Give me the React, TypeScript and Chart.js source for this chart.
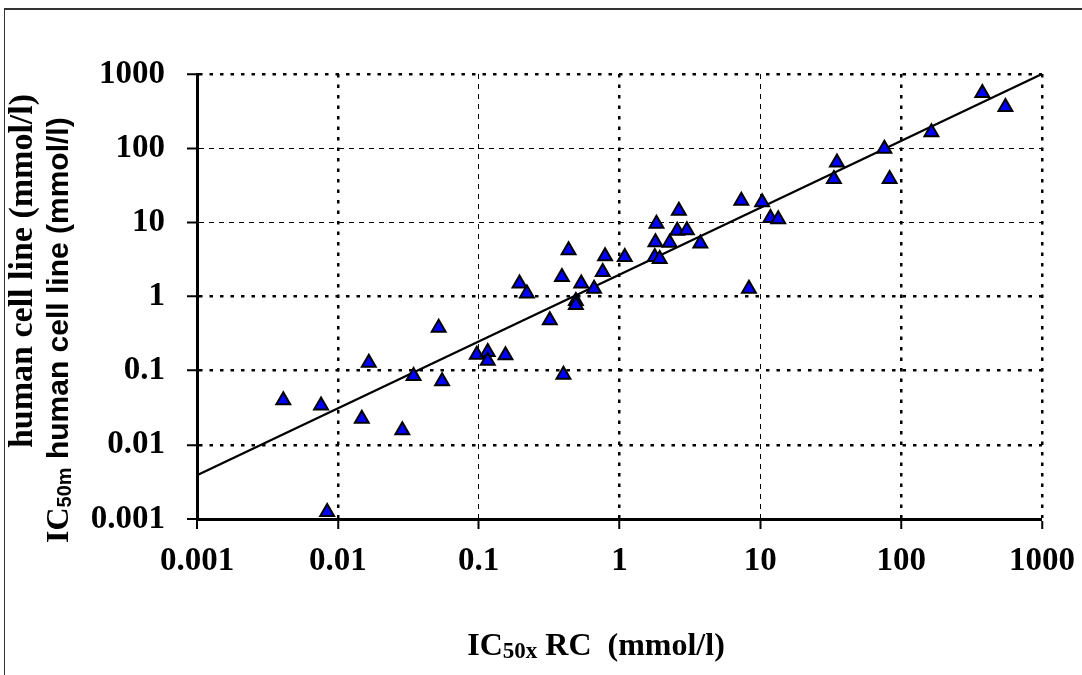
import { useEffect, useRef } from 'react';
import { Chart, registerables } from 'chart.js';

Chart.register(...registerables);

// IC50 values (x: RC, y: human cell line), mmol/l
const X_VALUES = [
  0.0041, 0.0076, 0.0084, 0.0148, 0.0166, 0.0287, 0.0345, 0.052, 0.055, 0.097,
  0.116, 0.116, 0.155, 0.195, 0.22, 0.32, 0.39, 0.40, 0.435, 0.49,
  0.49, 0.535, 0.66, 0.76, 0.79, 1.09, 1.78, 1.80, 1.83, 1.93,
  2.27, 2.57, 2.64, 3.01, 3.75, 7.33, 8.3, 10.3, 11.8, 13.4,
  33.3, 35, 76, 82.8, 164, 377, 550,
];
const Y_VALUES = [
  0.040, 0.034, 0.00124, 0.0225, 0.128, 0.0157, 0.085, 0.38, 0.072, 0.164,
  0.178, 0.136, 0.161, 1.5, 1.1, 0.48, 1.83, 0.088, 4.2, 0.87,
  0.77, 1.5, 1.27, 2.14, 3.5, 3.4, 3.4, 5.4, 9.6, 3.2,
  5.3, 7.7, 14.3, 7.8, 5.2, 19.6, 1.27, 18.6, 11.4, 11.0,
  38.4, 64, 98, 38.4, 164, 554, 359,
];

// regression line end points
const TREND_X = [0.001, 1000];
const TREND_Y = [0.0039, 1000];

const X_TICKS = [0.001, 0.01, 0.1, 1, 10, 100, 1000];
const X_TICK_LABELS = ['0.001', '0.01', '0.1', '1', '10', '100', '1000'];
const Y_TICKS = [0.001, 0.01, 0.1, 1, 10, 100, 1000];
const Y_TICK_LABELS = ['0.001', '0.01', '0.1', '1', '10', '100', '1000'];

const X_TITLE_PARTS = ['IC', '50x', ' RC  (mmol/l)'];
const Y_TITLE = 'human cell line (mmol/l)';
const Y_TITLE_OVERLAY_PARTS = ['IC', '50m', ' human cell line (mmol/l)'];

const SERIF = '"Liberation Serif", "Times New Roman", serif';
const SANS = '"Liberation Sans", Arial, sans-serif';

// grid line styles per tick index ('-' none, 'A' bold dotted, 'B' thin dashed)
const X_GRID = ['-', 'A', 'B', 'A', 'B', 'A', 'A'];
const Y_GRID = ['-', 'A', 'A', 'A', 'B', 'B', 'A'];

function gridWidth(kind: string) {
  return kind === 'A' ? 2.5 : kind === 'B' ? 1 : 0;
}
function gridDash(kind: string) {
  return kind === 'A' ? [3.5, 7] : kind === 'B' ? [5, 5] : [];
}

const titlePlugin = {
  id: 'customTitles',
  afterDraw(chart: any) {
    const ctx = chart.ctx as CanvasRenderingContext2D;
    ctx.save();
    ctx.fillStyle = '#000';
    ctx.textBaseline = 'alphabetic';
    ctx.textAlign = 'left';

    // x axis title with subscript
    const big = `bold 32px ${SERIF}`;
    const sub = `bold 23px ${SERIF}`;
    ctx.font = big;
    const w1 = ctx.measureText(X_TITLE_PARTS[0]).width;
    const w3 = ctx.measureText(X_TITLE_PARTS[2]).width;
    ctx.font = sub;
    const w2 = ctx.measureText(X_TITLE_PARTS[1]).width;
    const total = w1 + w2 + w3;
    let x = 596 - total / 2;
    const base = 655;
    ctx.font = big;
    ctx.fillText(X_TITLE_PARTS[0], x, base);
    x += w1;
    ctx.font = sub;
    ctx.fillText(X_TITLE_PARTS[1], x, base + 3);
    x += w2;
    ctx.font = big;
    ctx.fillText(X_TITLE_PARTS[2], x, base);

    // y axis title, line 1
    ctx.save();
    ctx.translate(32, 271);
    ctx.rotate(-Math.PI / 2);
    ctx.textAlign = 'center';
    ctx.font = `bold 34px ${SERIF}`;
    ctx.fillText(Y_TITLE, 0, 0);
    ctx.restore();

    // y axis title, overlapping second line
    ctx.save();
    ctx.translate(68, 543);
    ctx.rotate(-Math.PI / 2);
    ctx.textAlign = 'left';
    let p = 0;
    ctx.font = `bold 32px ${SERIF}`;
    ctx.fillText(Y_TITLE_OVERLAY_PARTS[0], p, 0);
    p += ctx.measureText(Y_TITLE_OVERLAY_PARTS[0]).width;
    ctx.font = `bold 20px ${SANS}`;
    ctx.fillText(Y_TITLE_OVERLAY_PARTS[1], p, 3);
    p += ctx.measureText(Y_TITLE_OVERLAY_PARTS[1]).width;
    ctx.font = `bold 30px ${SANS}`;
    ctx.fillText(Y_TITLE_OVERLAY_PARTS[2], p, 0);
    ctx.restore();

    ctx.restore();
  },
};

export default function App() {
  const ref = useRef<HTMLCanvasElement>(null);

  useEffect(() => {
    if (!ref.current) return;
    const points = X_VALUES.map((v, i) => ({ x: v, y: Y_VALUES[i] }));
    const trend = TREND_X.map((v, i) => ({ x: v, y: TREND_Y[i] }));
    const tickFont = { family: SERIF, size: 33, weight: 'bold' as const };

    const chart = new Chart(ref.current, {
      type: 'scatter',
      data: {
        datasets: [
          {
            label: 'data',
            data: points,
            pointStyle: 'triangle',
            pointRadius: 8,
            pointBackgroundColor: '#0000FF',
            pointBorderColor: '#000',
            pointBorderWidth: 2,
            showLine: false,
          },
          {
            label: 'trend',
            data: trend,
            showLine: true,
            pointRadius: 0,
            borderColor: '#000',
            borderWidth: 2.2,
            fill: false,
          },
        ],
      },
      options: {
        responsive: false,
        animation: false,
        events: [],
        layout: { padding: { top: 74, right: 40, bottom: 0, left: 0 } },
        plugins: {
          legend: { display: false },
          tooltip: { enabled: false },
          title: { display: false },
        },
        scales: {
          x: {
            type: 'logarithmic',
            position: 'bottom',
            min: 0.001,
            max: 1000,
            afterBuildTicks: (scale: any) => {
              scale.ticks = X_TICKS.map((v) => ({ value: v }));
            },
            afterFit: (scale: any) => {
              scale.height = 156;
              scale.paddingLeft = 0;
              scale.paddingRight = 0;
            },
            ticks: {
              autoSkip: false,
              maxRotation: 0,
              minRotation: 0,
              padding: 13,
              color: '#000',
              font: tickFont,
              callback: (_v: any, i: number) => X_TICK_LABELS[i],
            },
            grid: {
              color: '#000',
              lineWidth: (c: any) => gridWidth(X_GRID[c.index] ?? '-'),
              drawTicks: true,
              tickLength: 10,
              tickWidth: 2,
              tickColor: '#000',
            },
            border: {
              display: true,
              color: '#000',
              width: 3,
              dash: (c: any) => (c.tick ? gridDash(X_GRID[c.index] ?? '-') : []),
            } as any,
            title: { display: false },
          },
          y: {
            type: 'logarithmic',
            position: 'left',
            min: 0.001,
            max: 1000,
            afterBuildTicks: (scale: any) => {
              scale.ticks = Y_TICKS.map((v) => ({ value: v }));
            },
            afterFit: (scale: any) => {
              scale.width = 197;
              scale.paddingTop = 0;
              scale.paddingBottom = 0;
            },
            ticks: {
              autoSkip: false,
              padding: 22,
              color: '#000',
              font: tickFont,
              callback: (_v: any, i: number) => Y_TICK_LABELS[i],
            },
            grid: {
              color: '#000',
              lineWidth: (c: any) => gridWidth(Y_GRID[c.index] ?? '-'),
              drawTicks: true,
              tickLength: 10,
              tickWidth: 2,
              tickColor: '#000',
            },
            border: {
              display: true,
              color: '#000',
              width: 3,
              dash: (c: any) => (c.tick ? gridDash(Y_GRID[c.index] ?? '-') : []),
            } as any,
            title: { display: false },
          },
        },
      },
      plugins: [titlePlugin],
    });
    return () => chart.destroy();
  }, []);

  return (
    <div
      style={{
        position: 'absolute',
        left: 0,
        top: 0,
        width: 1082,
        height: 675,
        overflow: 'hidden',
        background: '#fff',
      }}
    >
      <div
        style={{
          position: 'absolute',
          left: 4,
          top: 8,
          width: 1200,
          height: 800,
          borderTop: '2px solid #333',
          borderLeft: '1px solid #333',
        }}
      />
      <canvas
        ref={ref}
        width={1082}
        height={675}
        style={{ position: 'absolute', left: 0, top: 0, width: 1082, height: 675 }}
      />
    </div>
  );
}
